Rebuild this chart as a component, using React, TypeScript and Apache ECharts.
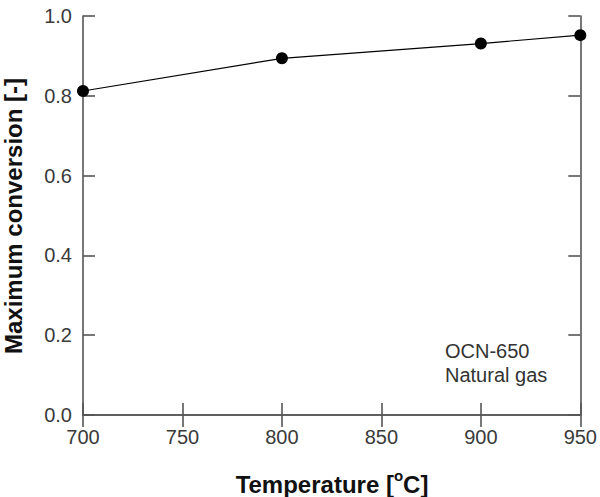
import React, { useEffect, useRef } from "react";
import * as echarts from "echarts";

// Temperature (°C) and maximum conversion of OCN-650 with natural gas
const temperatures = [700, 800, 900, 950];
const maxConversion = [0.812, 0.894, 0.931, 0.952];

const xTicks = { min: 700, max: 950, interval: 50 };
const yTicks = { min: 0, max: 1, interval: 0.2 };

const xTitle = "Temperature [";
const xTitleUnit = "C]";
const yTitle = "Maximum conversion [-]";
const annotationLines = ["OCN-650", "Natural gas"];

const axisColor = "#555";
const labelColor = "#3a3a3a";
const titleColor = "#111";
const FONT = "Liberation Sans, Arial, Helvetica, sans-serif";

export default function App() {
  const ref = useRef<HTMLDivElement>(null);

  useEffect(() => {
    if (!ref.current) return;
    const chart = echarts.init(ref.current, undefined, { renderer: "svg" });

    const axisLine = { show: true, lineStyle: { color: axisColor, width: 1.6 } };
    const axisTick = { show: true, inside: true, length: 12, lineStyle: { color: axisColor, width: 1.6 } };

    chart.setOption({
      animation: false,
      backgroundColor: "#fff",
      grid: { left: 83, right: 18, top: 16, bottom: 82, containLabel: false },
      textStyle: { fontFamily: FONT },
      xAxis: [
        {
          type: "value",
          ...xTicks,
          position: "bottom",
          axisLine,
          axisTick,
          splitLine: { show: false },
          axisLabel: { color: labelColor, fontSize: 20, margin: 12, fontFamily: FONT },
        },
        {
          type: "value",
          ...xTicks,
          position: "top",
          axisLine,
          axisTick,
          splitLine: { show: false },
          axisLabel: { show: false },
        },
      ],
      yAxis: [
        {
          type: "value",
          ...yTicks,
          position: "left",
          axisLine,
          axisTick,
          splitLine: { show: false },
          axisLabel: {
            color: labelColor,
            fontSize: 20,
            margin: 11,
            fontFamily: FONT,
            formatter: (v: number) => v.toFixed(1),
          },
        },
        {
          type: "value",
          ...yTicks,
          position: "right",
          axisLine,
          axisTick,
          splitLine: { show: false },
          axisLabel: { show: false },
        },
      ],
      series: [
        {
          type: "line",
          data: temperatures.map((t, i) => [t, maxConversion[i]]),
          symbol: "circle",
          symbolSize: 12,
          itemStyle: { color: "#000" },
          lineStyle: { color: "#000", width: 1.2 },
          clip: false,
        },
      ],
      graphic: [
        {
          type: "text",
          x: 332,
          y: 482,
          style: {
            text: `{b|${xTitle}}{sup|o}{b|${xTitleUnit}}`,
            align: "center",
            verticalAlign: "middle",
            rich: {
              b: { fontSize: 24, fontWeight: "bold", fill: titleColor, fontFamily: FONT, lineHeight: 28, verticalAlign: "bottom" },
              sup: { fontSize: 15, fontWeight: "bold", fill: titleColor, fontFamily: FONT, lineHeight: 16, verticalAlign: "top" },
            },
          },
        },
        {
          type: "text",
          x: 13,
          y: 216,
          rotation: Math.PI / 2,
          style: {
            text: yTitle,
            align: "center",
            verticalAlign: "middle",
            fontSize: 24,
            fontWeight: "bold",
            fill: titleColor,
            fontFamily: FONT,
          },
        },
        {
          type: "text",
          left: 445,
          top: 339,
          style: {
            text: annotationLines.join("\n"),
            fontSize: 20,
            lineHeight: 24,
            fill: "#333",
            fontFamily: FONT,
          },
        },
      ],
    });

    return () => chart.dispose();
  }, []);

  return <div ref={ref} style={{ width: 600, height: 497, position: "absolute", left: 0, top: 0 }} />;
}
